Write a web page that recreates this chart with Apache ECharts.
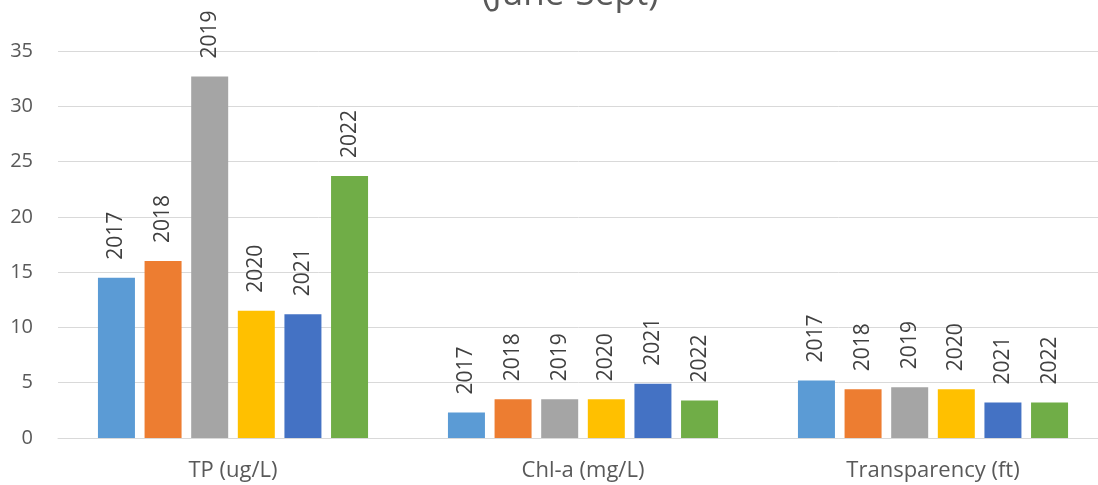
<!DOCTYPE html>
<html>
<head>
<meta charset="utf-8">
<script src="https://cdn.jsdelivr.net/npm/echarts@6/dist/echarts.min.js"></script>
<style>html,body{margin:0;padding:0;background:#fff;}#c{width:1098px;height:485px;}</style>
</head>
<body>
<div id="c"></div>
<script>
const categories = ['TP (ug/L)', 'Chl-a (mg/L)', 'Transparency (ft)'];
const years = ['2017', '2018', '2019', '2020', '2021', '2022'];
const v2017 = [14.5, 2.3, 5.2];
const v2018 = [16.0, 3.5, 4.4];
const v2019 = [32.7, 3.5, 4.6];
const v2020 = [11.5, 3.5, 4.4];
const v2021 = [11.2, 4.9, 3.2];
const v2022 = [23.7, 3.4, 3.2];
const yTicks = [0, 5, 10, 15, 20, 25, 30, 35];
const colors = ['#5B9BD5', '#ED7D31', '#A5A5A5', '#FFC000', '#4472C4', '#70AD47'];
const values = [v2017, v2018, v2019, v2020, v2021, v2022];

const font = '"Open Sans", "Liberation Sans", sans-serif';
const chart = echarts.init(document.getElementById('c'));
chart.setOption({
  animation: false,
  title: {
    text: '(June-Sept)',
    left: 477,
    top: -27,
    textStyle: { fontFamily: font, fontSize: 35, fontWeight: 'normal', color: '#595959' }
  },
  grid: { left: 58, top: 51, width: 1050, height: 387, containLabel: false, outerBoundsMode: 'none' },
  xAxis: {
    type: 'category',
    data: categories,
    axisLine: { lineStyle: { color: '#D9D9D9', width: 1 } },
    axisTick: { show: false },
    axisLabel: { fontFamily: font, fontSize: 22, color: '#595959', margin: 22 }
  },
  yAxis: {
    type: 'value',
    min: yTicks[0],
    max: yTicks[yTicks.length - 1],
    interval: 5,
    axisLine: { show: false },
    axisTick: { show: false },
    splitLine: { lineStyle: { color: '#D9D9D9', width: 1 } },
    axisLabel: { fontFamily: font, fontSize: 20, color: '#595959', margin: 25 }
  },
  series: years.map((y, i) => ({
    type: 'bar',
    name: y,
    data: values[i],
    barWidth: 37,
    barGap: '26%',
    itemStyle: { color: colors[i] },
    label: {
      show: true,
      position: 'top',
      rotate: 90,
      align: 'left',
      verticalAlign: 'middle',
      distance: 18,
      formatter: () => y,
      fontFamily: font,
      fontSize: 21,
      color: '#404040'
    }
  }))
});
</script>
</body>
</html>
